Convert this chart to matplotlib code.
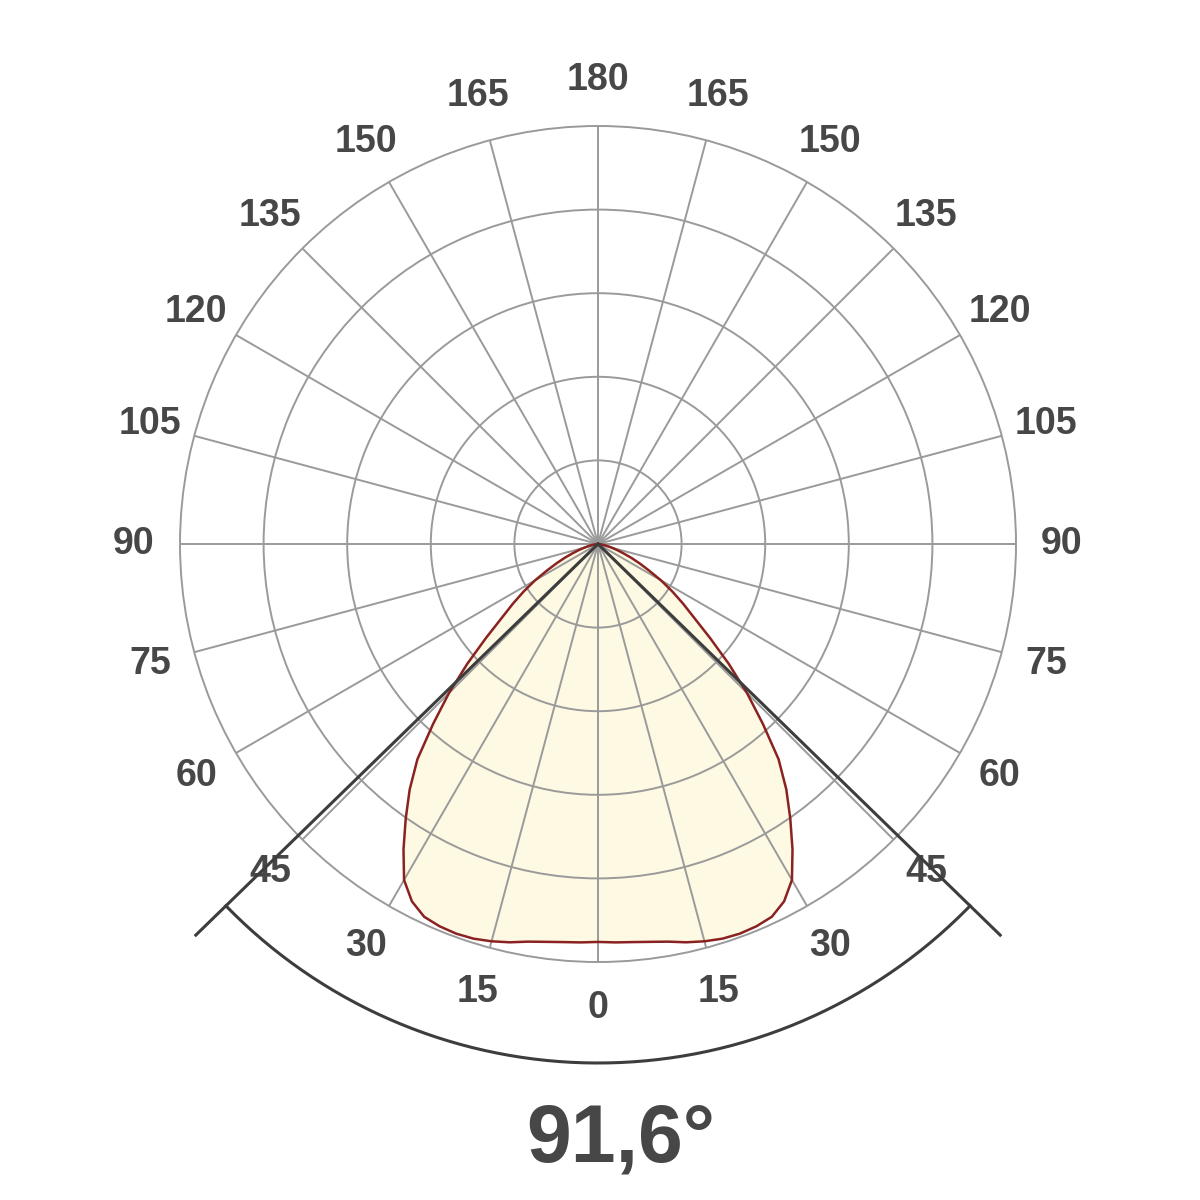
import numpy as np
import matplotlib
matplotlib.use("Agg")
import matplotlib.pyplot as plt

# luminous intensity (cd/klm), one half of the plane
gamma = [0, 2.5, 5, 7.5, 10, 12.5, 15, 17.5, 20, 22.5, 25, 27.5, 30, 32.5,
         35, 37.5, 40, 42.5, 45, 47.5, 50, 52.5, 55, 57.5, 60, 62.5, 65,
         67.5, 70, 72.5, 75, 77.5, 80, 82.5, 85, 87.5, 90]
intensity = [476, 477, 478, 480, 483, 488, 492, 495, 496, 495, 492, 482, 464,
             433, 401, 370, 336, 292, 252, 212, 175, 145, 124, 105, 87, 69, 55,
             43, 32, 24, 17, 12, 7, 5, 2, 1, 0]

ring_values = [100, 200, 300, 400]
r_max = 500
angle_ticks = list(range(0, 360, 15))
beam_angle = 91.6

grid_col = "#9a9a9a"
text_col = "#474747"
dark_col = "#3d3d3d"

fig = plt.figure(figsize=(12, 12), dpi=100)
ax = fig.add_axes([0.15, 0.19833, 0.69667, 0.69667], projection="polar")
ax.set_theta_zero_location("S")
ax.set_ylim(0, r_max)

ax.set_thetagrids(angle_ticks, labels=[])
ax.set_rgrids(ring_values, labels=[])
ax.grid(True, color=grid_col, linewidth=1.4)
ax.spines["polar"].set_color(grid_col)
ax.spines["polar"].set_linewidth(1.4)
ax.tick_params(length=0)

# full curve, mirrored
g = np.radians(np.array(gamma))
vals = np.array(intensity)
theta = np.concatenate([-g[::-1], g[1:]])
r = np.concatenate([vals[::-1], vals[1:]])
ax.fill(theta, r, color="#fdf9e2", zorder=1)
ax.plot(theta, r, color="#8b2222", linewidth=1.8, zorder=3)

# angle labels
label_r = r_max * 464 / 418
for a in angle_ticks:
    lab = a if a <= 180 else 360 - a
    ax.text(np.radians(a), label_r, str(lab), ha="center", va="center",
            fontsize=27, fontweight="bold", color=text_col,
            family="Liberation Sans", clip_on=False)

# beam angle lines and arc
half = np.radians(beam_angle / 2)
line_r = r_max * 561 / 418
arc_r = r_max * 519 / 418
for s in (-1, 1):
    ax.plot([s * half, s * half], [0, line_r], color=dark_col, linewidth=2.2,
            clip_on=False, zorder=4)
arc_t = np.linspace(-half, half, 200)
ax.plot(arc_t, np.full_like(arc_t, arc_r), color=dark_col, linewidth=2.2,
        clip_on=False, zorder=4)

fig.text(621 / 1200, 1 - 1162 / 1200, f"{beam_angle:.1f}°".replace(".", ","),
         ha="center", va="baseline", fontsize=58, fontweight="bold",
         color=text_col, family="Liberation Sans")

fig.savefig("out.png", dpi=100, facecolor="white")
